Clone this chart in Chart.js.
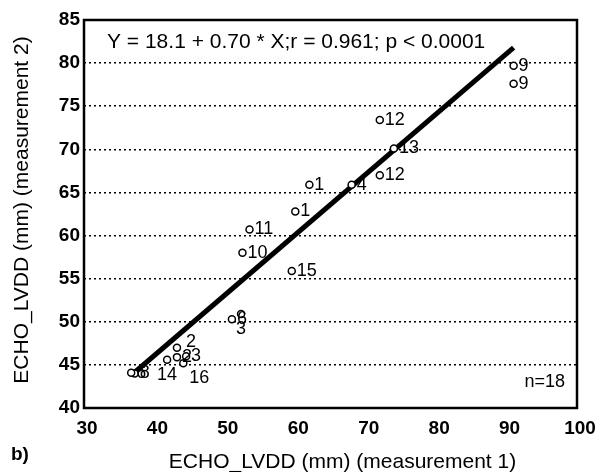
<!DOCTYPE html>
<html>
<head>
<meta charset="utf-8">
<script src="https://cdn.jsdelivr.net/npm/chart.js@4.4.1/dist/chart.umd.min.js"></script>
<style>
  html, body { margin: 0; padding: 0; background: #fff; }
  #wrap { width: 606px; height: 472px; }
</style>
</head>
<body>
<div id="wrap"><canvas id="c" width="606" height="472"></canvas></div>
<script>
const POINT_X     = [91, 91, 72, 74, 72, 68, 62, 60, 53.5, 52.5, 59.5, 51, 52.3, 43.2, 43.2, 44.5, 41.8, 44.1, 37.2, 36.7];
const POINT_Y     = [79.7, 77.6, 73.4, 70.1, 67, 65.9, 65.9, 62.8, 60.7, 58, 55.9, 50.3, 50.9, 47, 45.9, 46, 45.6, 45.2, 44, 44.1];
const POINT_LABEL = ["9", "9", "12", "13", "12", "4", "1", "1", "11", "10", "15", "6", "3", "2", "2", "3", "14", "16", "8", "6"];
const LABEL_SIDE  = ["r", "r", "r", "r", "r", "r", "r", "r", "r", "r", "r", "r", "b", "ra", "r", "r", "b", "br", "r", "r"];

// fitted line end points
const FIT_X = [37, 91];
const FIT_Y = [44.0, 81.8];

const X_TICKS = [30, 40, 50, 60, 70, 80, 90, 100];
const Y_TICKS = [40, 45, 50, 55, 60, 65, 70, 75, 80, 85];

const EQUATION = "Y = 18.1 + 0.70 * X;r = 0.961; p < 0.0001";
const N_TEXT   = "n=18";
const X_TITLE  = "ECHO_LVDD (mm) (measurement 1)";
const Y_TITLE  = "ECHO_LVDD (mm) (measurement 2)";
const PANEL    = "b)";

const FONT = "'Liberation Sans', Arial, sans-serif";

// frame, texts and point labels
const decorPlugin = {
    id: "decor",
    afterDatasetsDraw(chart) {
        const ctx = chart.ctx;
        const a = chart.chartArea;
        ctx.save();
        ctx.strokeStyle = "#000";
        ctx.lineWidth = 2.5;
        ctx.strokeRect(a.left, a.top, a.right - a.left, a.bottom - a.top);

        ctx.fillStyle = "#000";
        // point labels
        ctx.font = "18px " + FONT;
        const meta = chart.getDatasetMeta(1);
        meta.data.forEach((el, i) => {
            const side = LABEL_SIDE[i];
            const t = POINT_LABEL[i];
            if (side === "b") {
                ctx.textAlign = "center";
                ctx.textBaseline = "top";
                ctx.fillText(t, el.x, el.y + 6);
            } else if (side === "br") {
                ctx.textAlign = "left";
                ctx.textBaseline = "top";
                ctx.fillText(t, el.x + 6, el.y + 6);
            } else if (side === "ra") {
                ctx.textAlign = "left";
                ctx.textBaseline = "middle";
                ctx.fillText(t, el.x + 9, el.y - 6);
            } else {
                ctx.textAlign = "left";
                ctx.textBaseline = "middle";
                ctx.fillText(t, el.x + 5, el.y);
            }
        });

        // equation
        ctx.font = "21px " + FONT;
        ctx.textAlign = "left";
        ctx.textBaseline = "middle";
        ctx.fillText(EQUATION, a.left + 23, a.top + 22);

        // n
        ctx.font = "18px " + FONT;
        ctx.textAlign = "right";
        ctx.fillText(N_TEXT, a.right - 12, a.bottom - 26);

        // axis titles
        ctx.font = "21px " + FONT;
        ctx.textAlign = "center";
        ctx.fillText(X_TITLE, (a.left + a.right) / 2 + 12, 462);
        ctx.save();
        ctx.translate(22, (a.top + a.bottom) / 2 - 4);
        ctx.rotate(-Math.PI / 2);
        ctx.fillText(Y_TITLE, 0, 0);
        ctx.restore();

        ctx.font = "bold 19px " + FONT;
        ctx.textAlign = "left";
        ctx.fillText(PANEL, 11, 455);
        ctx.restore();
    }
};

new Chart(document.getElementById("c"), {
    type: "scatter",
    data: {
        datasets: [
            {
                type: "line",
                data: FIT_X.map((x, i) => ({ x: x, y: FIT_Y[i] })),
                borderColor: "#000",
                borderWidth: 5,
                pointRadius: 0,
                fill: false,
                order: 2,
            },
            {
                data: POINT_X.map((x, i) => ({ x: x, y: POINT_Y[i] })),
                pointStyle: "circle",
                pointRadius: 3.5,
                pointBorderWidth: 1.5,
                pointBackgroundColor: "#fff",
                pointBorderColor: "#000",
                order: 1,
            },
        ],
    },
    options: {
        responsive: false,
        animation: false,
        events: [],
        layout: { padding: { left: 0, right: 29, top: 20, bottom: 0 } },
        plugins: {
            legend: { display: false },
            tooltip: { enabled: false },
        },
        scales: {
            x: {
                type: "linear",
                min: 30,
                max: 100,
                afterBuildTicks: (s) => { s.ticks = X_TICKS.map((v) => ({ value: v })); },
                afterFit: (s) => { s.height = 64; },
                grid: { display: false, drawTicks: false },
                border: { display: false },
                ticks: {
                    color: "#000",
                    padding: 9,
                    labelOffset: 3,
                    font: { family: FONT, size: 19, weight: "bold" },
                    maxRotation: 0,
                },
            },
            y: {
                type: "linear",
                min: 40,
                max: 85,
                afterBuildTicks: (s) => { s.ticks = Y_TICKS.map((v) => ({ value: v })); },
                afterFit: (s) => { s.width = 84; },
                grid: {
                    drawTicks: false,
                    color: (c) => (c.tick && (c.tick.value === 40 || c.tick.value === 85)) ? "rgba(0,0,0,0)" : "#000",
                    lineWidth: 1.5,
                },
                border: { display: false, dash: [2, 3] },
                ticks: {
                    color: "#000",
                    padding: 4,
                    font: { family: FONT, size: 19, weight: "bold" },
                },
            },
        },
    },
    plugins: [decorPlugin],
});
</script>
</body>
</html>
